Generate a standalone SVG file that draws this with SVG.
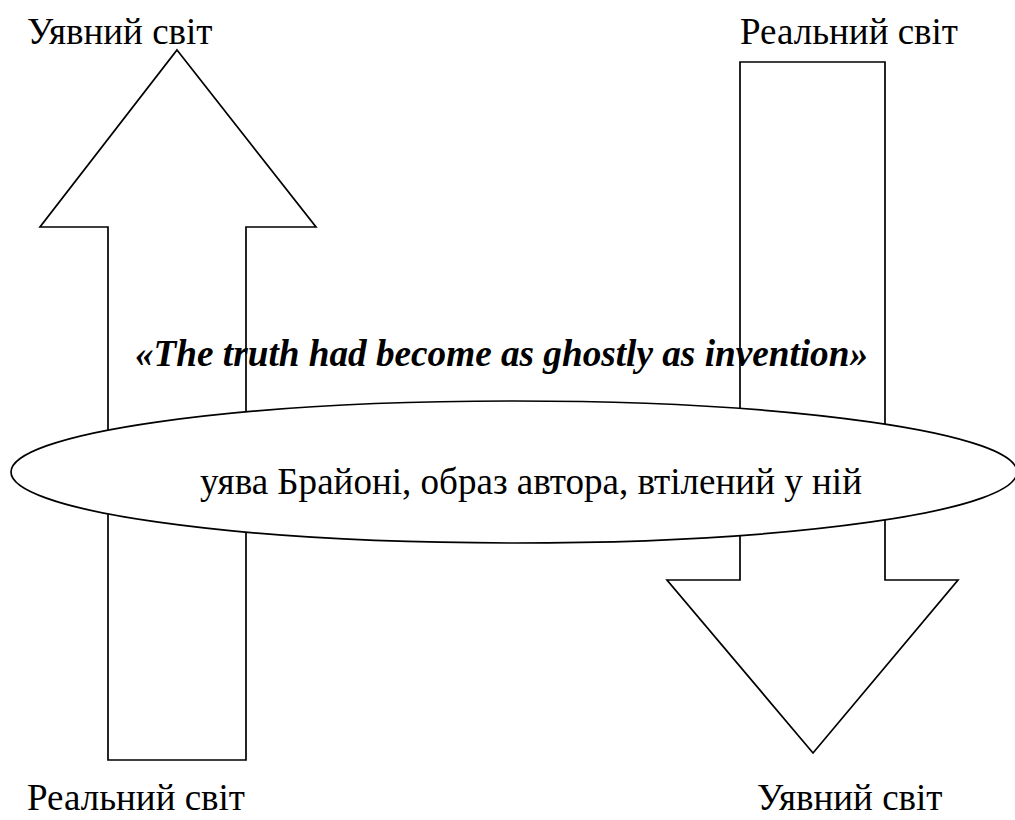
<svg xmlns="http://www.w3.org/2000/svg" width="1015" height="820" viewBox="0 0 1015 820">
  <style>
    .shape { fill: #ffffff; stroke: #000000; stroke-width: 1.7; stroke-linejoin: miter; }
    .label { font-family: "Liberation Serif", "Times New Roman", serif; fill: #000000; }
    .world { font-size: 37px; }
    .quote { font-size: 37px; font-weight: bold; font-style: italic; }
    .core { font-size: 37px; }
  </style>

  <rect width="1015" height="820" fill="#ffffff"/>

  <!-- upward block arrow: real world rising into the imagined one -->
  <g id="arrow-up">
    <polygon class="shape" points="177,50 316,227 246,227 246,760 108,760 108,227 40,227"/>
  </g>

  <!-- downward block arrow: real world descending into the imagined one -->
  <g id="arrow-down">
    <polygon class="shape" points="740,62 885,62 885,580 958,580 813,753 667,580 740,580"/>
  </g>

  <!-- central oval laid across both arrows -->
  <g id="oval">
    <ellipse class="shape" cx="514" cy="472" rx="503" ry="71"/>
    <text class="label core" x="200" y="494" textLength="662" lengthAdjust="spacingAndGlyphs">уява Брайоні, образ автора, втілений у ній</text>
  </g>

  <g id="quote">
    <text class="label quote" x="135" y="366" textLength="733" lengthAdjust="spacingAndGlyphs">«The truth had become as ghostly as invention»</text>
  </g>

  <g id="labels">
    <text class="label world" x="27" y="44">Уявний світ</text>
    <text class="label world" x="740" y="44">Реальний світ</text>
    <text class="label world" x="27" y="810">Реальний світ</text>
    <text class="label world" x="757" y="810">Уявний світ</text>
  </g>
</svg>
